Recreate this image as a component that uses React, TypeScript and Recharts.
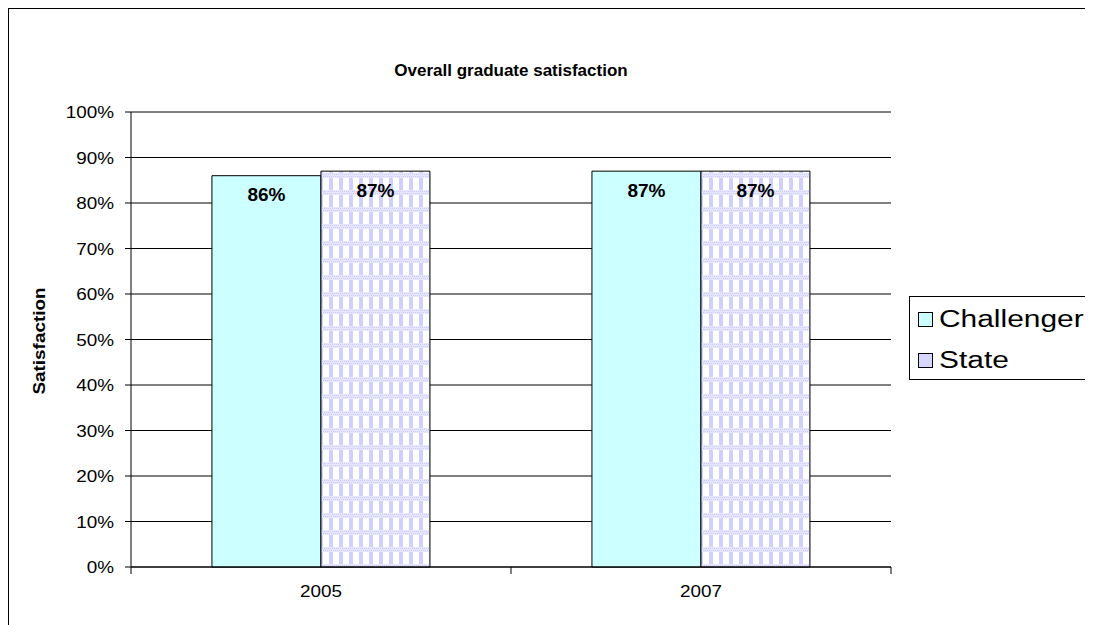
import { BarChart, Bar, XAxis, YAxis, CartesianGrid, LabelList } from 'recharts';

const years = ['2005', '2007'];
const challenger = [0.86, 0.87];
const state = [0.87, 0.87];
const yTicks = [0, 0.1, 0.2, 0.3, 0.4, 0.5, 0.6, 0.7, 0.8, 0.9, 1];

const data = years.map((year, i) => ({ year, challenger: challenger[i], state: state[i] }));

const FONT = 'Arial, "Liberation Sans", sans-serif';
const STRETCH = 1.18; // the original font renders wider than Arial
const pct = (v: number) => `${Math.round(v * 100)}%`;

// x axis ticks sit on the category boundaries, labels in the middle
function YearTick(props: any) {
  const { x, y, payload, index, visibleTicksCount } = props;
  const half = 380 / 2;
  return (
    <g>
      <line x1={x - half} x2={x - half} y1={y - 8} y2={y - 1} stroke="#000" strokeWidth={1} />
      {index === visibleTicksCount - 1 && (
        <line x1={x + half} x2={x + half} y1={y - 8} y2={y - 1} stroke="#000" strokeWidth={1} />
      )}
      <text
        transform={`translate(${x},${y + 22}) scale(${STRETCH},1)`}
        textAnchor="middle"
        fontFamily={FONT}
        fontSize={16}
        fill="#000"
      >
        {payload.value}
      </text>
    </g>
  );
}

function PctTick(props: any) {
  const { x, y, payload } = props;
  return (
    <text
      transform={`translate(${x},${y + 6}) scale(${STRETCH},1)`}
      textAnchor="end"
      fontFamily={FONT}
      fontSize={16}
      fill="#000"
    >
      {pct(payload.value)}
    </text>
  );
}

const legendItems = [
  { name: 'Challenger', fill: '#ccffff' },
  { name: 'State', fill: '#d6d6ff' },
];

export default function App() {
  return (
    <div
      style={{
        position: 'relative',
        width: 1084,
        height: 616,
        borderTop: '1px solid #000',
        borderLeft: '1px solid #000',
        background: '#fff',
        overflow: 'hidden',
      }}
    >
      <div
        style={{
          position: 'absolute',
          left: 0,
          top: 52,
          width: 1004,
          textAlign: 'center',
          fontFamily: FONT,
          fontWeight: 'bold',
          fontSize: 17,
        }}
      >
        Overall graduate satisfaction
      </div>
      <div
        style={{
          position: 'absolute',
          left: 31 - 60,
          top: 332 - 10,
          width: 120,
          height: 20,
          lineHeight: '20px',
          textAlign: 'center',
          fontFamily: FONT,
          fontWeight: 'bold',
          fontSize: 16,
          transform: `rotate(-90deg) scaleX(${STRETCH})`,
        }}
      >
        Satisfaction
      </div>
      <BarChart
        width={1084}
        height={616}
        data={data}
        margin={{ top: 103, right: 202, bottom: 28, left: 62 }}
        barCategoryGap="21.3%"
        barGap={0}
      >
        <defs>
          <pattern id="statePattern" width="10" height="17" patternUnits="userSpaceOnUse">
            <rect width="10" height="17" fill="#ffffff" />
            <rect x="0" y="0" width="4" height="17" fill="#d0d0ff" />
            <rect x="0" y="11" width="10" height="5" fill="#e6e6ff" />
            <rect x="1" y="12" width="1" height="1" fill="#ccccff" />
            <rect x="3" y="12" width="1" height="1" fill="#ccccff" />
            <rect x="5" y="12" width="1" height="1" fill="#ccccff" />
            <rect x="7" y="12" width="1" height="1" fill="#ccccff" />
            <rect x="9" y="12" width="1" height="1" fill="#ccccff" />
            <rect x="0" y="14" width="1" height="1" fill="#ccccff" />
            <rect x="2" y="14" width="1" height="1" fill="#ccccff" />
            <rect x="4" y="14" width="1" height="1" fill="#ccccff" />
            <rect x="6" y="14" width="1" height="1" fill="#ccccff" />
            <rect x="8" y="14" width="1" height="1" fill="#ccccff" />
          </pattern>
        </defs>
        <CartesianGrid vertical={false} stroke="#000" strokeWidth={1} />
        <XAxis
          dataKey="year"
          height={30}
          tickLine={false}
          axisLine={{ stroke: '#000' }}
          tick={<YearTick />}
          interval={0}
        />
        <YAxis
          width={60}
          domain={[0, 1]}
          ticks={yTicks}
          interval={0}
          axisLine={{ stroke: '#000' }}
          tickLine={{ stroke: '#000' }}
          tickSize={6}
          tickMargin={11}
          tick={<PctTick />}
        />
        <Bar dataKey="challenger" fill="#ccffff" stroke="#000" strokeWidth={1} isAnimationActive={false}>
          <LabelList
            dataKey="challenger"
            position="insideTop"
            offset={12}
            formatter={(v: any) => pct(Number(v))}
            style={{ fontFamily: FONT, fontWeight: 'bold', fontSize: 19, fill: '#000' }}
          />
        </Bar>
        <Bar dataKey="state" fill="url(#statePattern)" stroke="#000" strokeWidth={1} isAnimationActive={false}>
          <LabelList
            dataKey="state"
            position="insideTop"
            offset={12}
            formatter={(v: any) => pct(Number(v))}
            style={{ fontFamily: FONT, fontWeight: 'bold', fontSize: 19, fill: '#000' }}
          />
        </Bar>
      </BarChart>
      <div
        style={{
          position: 'absolute',
          left: 900,
          top: 287,
          width: 200,
          height: 84,
          border: '1px solid #000',
          boxSizing: 'border-box',
          fontFamily: FONT,
          fontSize: 23,
          background: '#fff',
        }}
      >
        {legendItems.map((item, i) => (
          <div key={item.name}>
            <span
              style={{
                position: 'absolute',
                left: 8,
                top: 15 + i * 41,
                width: 13,
                height: 13,
                border: '1px solid #000',
                background: item.fill,
              }}
            />
            <span
              style={{
                position: 'absolute',
                left: 29,
                top: 8 + i * 41,
                lineHeight: '28px',
                whiteSpace: 'nowrap',
                transform: 'scaleX(1.3)',
                transformOrigin: 'left center',
              }}
            >
              {item.name}
            </span>
          </div>
        ))}
      </div>
    </div>
  );
}
